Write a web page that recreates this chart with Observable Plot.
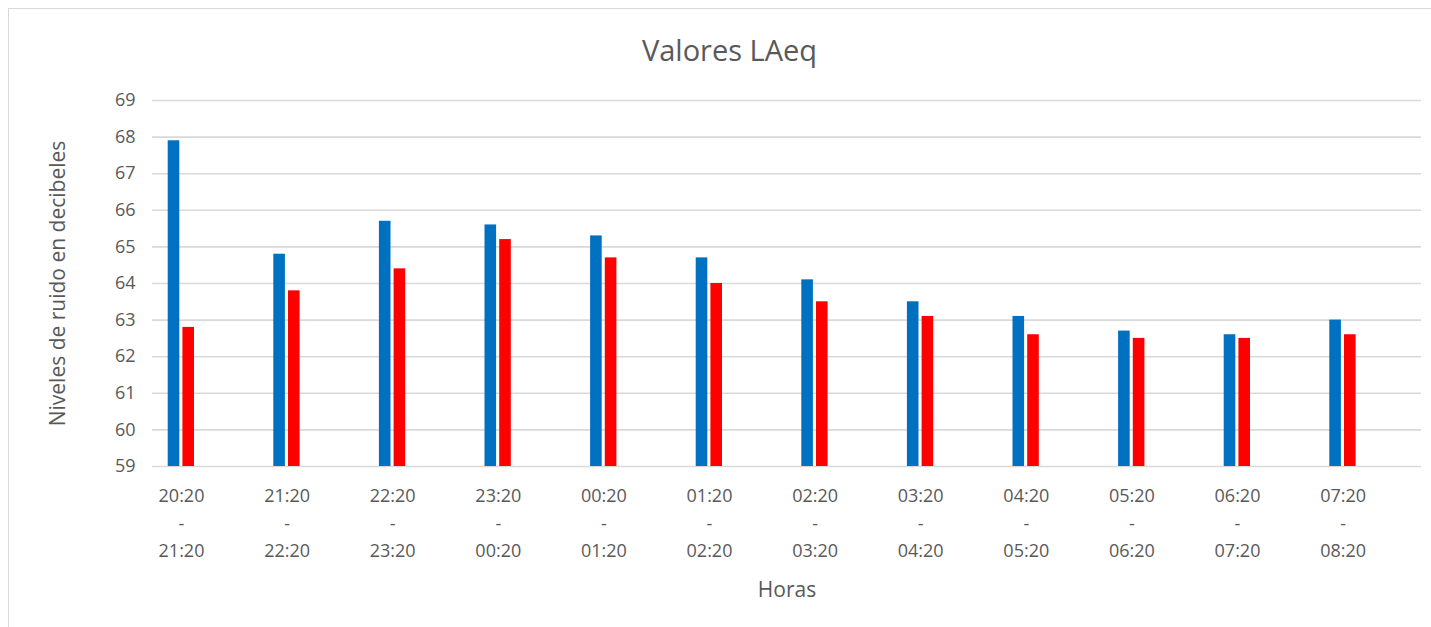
<!DOCTYPE html>
<html lang="es">
<head>
<meta charset="utf-8">
<title>Valores LAeq</title>
<script src="https://cdn.jsdelivr.net/npm/d3@7"></script>
<script src="https://cdn.jsdelivr.net/npm/@observablehq/plot@0.6"></script>
<style>
  html, body { margin: 0; padding: 0; background: #fff; overflow: hidden; }
  #chart { position: relative; width: 1431px; height: 627px; font-family: "Open Sans", sans-serif; color: #595959; }
  #borde { position: absolute; left: 8px; top: 8px; width: 1500px; height: 700px;
           border-left: 1px solid #d9d9d9; border-top: 1px solid #d9d9d9; pointer-events: none; z-index: 2; }
  #titulo { box-sizing: border-box; height: 78px; padding-top: 35px; padding-left: 28px;
            text-align: center; font-size: 29px; line-height: 1; color: #595959; }
</style>
</head>
<body>
<div id="chart">
  <div id="titulo">Valores LAeq</div>
  <div id="borde"></div>
</div>
<script>
// Franjas horarias (una por categoría del eje X)
const horas = [
  "20:20 - 21:20", "21:20 - 22:20", "22:20 - 23:20", "23:20 - 00:20",
  "00:20 - 01:20", "01:20 - 02:20", "02:20 - 03:20", "03:20 - 04:20",
  "04:20 - 05:20", "05:20 - 06:20", "06:20 - 07:20", "07:20 - 08:20"
];

// Niveles LAeq (dB) de cada serie
const serieAzul = [67.9, 64.8, 65.7, 65.6, 65.3, 64.7, 64.1, 63.5, 63.1, 62.7, 62.6, 63.0];
const serieRoja = [62.8, 63.8, 64.4, 65.2, 64.7, 64.0, 63.5, 63.1, 62.6, 62.5, 62.5, 62.6];

// Eje Y
const yTicks = [59, 60, 61, 62, 63, 64, 65, 66, 67, 68, 69];
const yMin = yTicks[0];
const yMax = yTicks[yTicks.length - 1];

const etiquetaY = "Niveles de ruido en decibeles";
const etiquetaX = "Horas";

const datos = horas.map((h, i) => ({hora: h, azul: serieAzul[i], roja: serieRoja[i]}));

const grafico = Plot.plot({
  width: 1431,
  height: 549,
  marginTop: 22,
  marginBottom: 161,
  marginLeft: 152,
  marginRight: 10,
  style: {fontFamily: "'Open Sans', sans-serif", fontSize: "18px", color: "#595959", background: "transparent"},
  x: {domain: horas, range: [128.2, 1395.4], padding: 0, round: false},
  y: {domain: [yMin, yMax]},
  marks: [
    Plot.gridY(yTicks, {stroke: "#d9d9d9", strokeOpacity: 1, strokeWidth: 1.6}),
    Plot.axisY(yTicks, {tickSize: 0, tickPadding: 17, label: null, fontSize: 18, fill: "#595959"}),
    Plot.axisX({
      tickSize: 0, tickPadding: 16, label: null, fontSize: 18, fill: "#595959",
      lineHeight: 1.53,
      tickFormat: d => d.replace(" - ", "\n-\n")
    }),
    Plot.barY(datos, {x: "hora", y1: () => yMin, y2: "azul", fill: "#0070C0", insetLeft: 39.5, insetRight: 54.5}),
    Plot.barY(datos, {x: "hora", y1: () => yMin, y2: "roja", fill: "#FF0000", insetLeft: 54.2, insetRight: 39.8}),
    Plot.text([etiquetaY], {frameAnchor: "left", textAnchor: "middle", lineAnchor: "middle", rotate: -90, dx: -94, fontSize: 21, fill: "#595959"}),
    Plot.text([etiquetaX], {frameAnchor: "bottom", textAnchor: "middle", lineAnchor: "middle", dy: 124, fontSize: 21, fill: "#595959"})
  ]
});

document.getElementById("chart").insertBefore(grafico, document.getElementById("borde"));
</script>
</body>
</html>
